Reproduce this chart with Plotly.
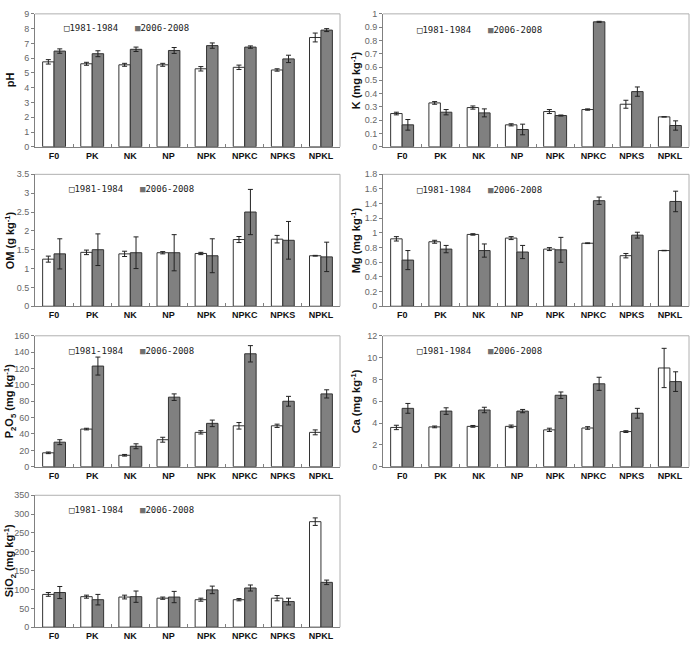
import plotly.graph_objects as go

W, H = 697, 645

categories = ["F0", "PK", "NK", "NP", "NPK", "NPKC", "NPKS", "NPKL"]
series_names = ["1981-1984", "2006-2008"]

ph_old = [5.75, 5.62, 5.55, 5.55, 5.28, 5.38, 5.20, 7.40]
ph_old_err = [0.15, 0.10, 0.10, 0.10, 0.15, 0.15, 0.08, 0.30]
ph_new = [6.48, 6.30, 6.60, 6.52, 6.85, 6.75, 5.95, 7.90]
ph_new_err = [0.15, 0.20, 0.15, 0.20, 0.18, 0.08, 0.25, 0.10]

k_old = [0.25, 0.33, 0.295, 0.165, 0.265, 0.28, 0.32, 0.225]
k_old_err = [0.01, 0.01, 0.012, 0.008, 0.015, 0.005, 0.03, 0.0]
k_new = [0.165, 0.26, 0.255, 0.13, 0.235, 0.94, 0.415, 0.16]
k_new_err = [0.04, 0.02, 0.03, 0.04, 0.004, 0.004, 0.035, 0.035]

om_old = [1.25, 1.43, 1.39, 1.42, 1.40, 1.77, 1.78, 1.34]
om_old_err = [0.08, 0.06, 0.07, 0.03, 0.03, 0.08, 0.10, 0.01]
om_new = [1.39, 1.50, 1.42, 1.42, 1.34, 2.50, 1.75, 1.31]
om_new_err = [0.40, 0.42, 0.42, 0.48, 0.45, 0.60, 0.50, 0.39]

mg_old = [0.92, 0.88, 0.98, 0.93, 0.78, 0.86, 0.69, 0.76]
mg_old_err = [0.03, 0.02, 0.01, 0.02, 0.02, 0.005, 0.03, 0.003]
mg_new = [0.63, 0.78, 0.76, 0.74, 0.77, 1.44, 0.97, 1.43]
mg_new_err = [0.13, 0.05, 0.09, 0.09, 0.17, 0.05, 0.04, 0.14]

p_old = [17, 46, 14, 33, 42, 50, 50, 42]
p_old_err = [1, 1, 1, 3, 2, 4, 2, 3]
p_new = [30, 123, 25, 85, 53, 138, 80, 89]
p_new_err = [3, 11, 3, 4, 4, 10, 6, 5]

ca_old = [3.6, 3.65, 3.7, 3.7, 3.38, 3.55, 3.22, 9.05]
ca_old_err = [0.2, 0.08, 0.08, 0.12, 0.15, 0.12, 0.08, 1.8]
ca_new = [5.35, 5.1, 5.2, 5.1, 6.55, 7.6, 4.9, 7.8]
ca_new_err = [0.45, 0.3, 0.25, 0.15, 0.3, 0.6, 0.45, 0.9]

si_old = [87, 81, 80, 77, 73, 73, 77, 280]
si_old_err = [5, 4, 5, 3, 4, 3, 7, 10]
si_new = [92, 73, 81, 80, 99, 104, 68, 119]
si_new_err = [16, 14, 15, 15, 10, 8, 9, 6]

panels = [
    ("pH", 9, 1, ph_old, ph_old_err, ph_new, ph_new_err),
    ("K (mg kg<sup>-1</sup>)", 1, 0.1, k_old, k_old_err, k_new, k_new_err),
    ("OM (g kg<sup>-1</sup>)", 3.5, 0.5, om_old, om_old_err, om_new, om_new_err),
    ("Mg (mg kg<sup>-1</sup>)", 1.8, 0.2, mg_old, mg_old_err, mg_new, mg_new_err),
    ("P<sub>2</sub>O<sub>5</sub> (mg kg<sup>-1</sup>)", 160, 20, p_old, p_old_err, p_new, p_new_err),
    ("Ca (mg kg<sup>-1</sup>)", 12, 2, ca_old, ca_old_err, ca_new, ca_new_err),
    ("SiO<sub>2</sub> (mg kg<sup>-1</sup>)", 350, 50, si_old, si_old_err, si_new, si_new_err),
]

# layout geometry in pixels
col_x = [(35, 340), (383, 689)]
row_y = [(9, 144), (172, 306), (336, 469), (498, 632)]
title_x = [10, 356]
legend_pos = [(62, 23), (415, 25), (67, 187), (415, 188), (67, 351), (415, 351), (67, 513)]

fig = go.Figure()
layout = dict(
    width=W, height=H, margin=dict(l=0, r=0, t=0, b=0),
    paper_bgcolor="white", plot_bgcolor="white",
    barmode="group", bargap=0.4, bargroupgap=0.0,
    showlegend=False, annotations=[], shapes=[],
)

for i, (title, ymax, dtick, v1, e1, v2, e2) in enumerate(panels):
    r, c = divmod(i, 2)
    n = "" if i == 0 else str(i + 1)
    xa, ya = "x" + n, "y" + n
    for vals, errs, fill, name in [(v1, e1, "white", series_names[0]), (v2, e2, "#808080", series_names[1])]:
        fig.add_trace(go.Bar(
            x=categories, y=vals, name=name, xaxis=xa, yaxis=ya,
            marker=dict(color=fill, line=dict(color="#333333", width=1)),
            error_y=dict(type="data", array=errs, visible=True, color="#222222", thickness=1, width=2.5),
        ))
    x0, x1 = col_x[c]
    y0, y1 = row_y[r]
    layout["xaxis" + n] = dict(
        domain=[x0 / W, x1 / W], anchor=ya, type="category",
        showline=True, linecolor="#808080", linewidth=1,
        ticks="inside", ticklen=3, tickcolor="#808080", tickson="boundaries",
        tickfont=dict(family="Liberation Sans, Arial", size=9, color="#111111", weight="bold"),
        showgrid=False, zeroline=False, fixedrange=True,
    )
    layout["yaxis" + n] = dict(
        domain=[1 - y1 / H, 1 - y0 / H], anchor=xa, range=[0, ymax], dtick=dtick,
        showline=True, linecolor="#808080", linewidth=1,
        ticks="outside", ticklen=3, tickcolor="#808080",
        tickfont=dict(family="Liberation Sans, Arial", size=9, color="#666666"),
        showgrid=False, zeroline=False, fixedrange=True,
    )
    # light frame on top and right
    layout["shapes"].append(dict(type="line", xref="paper", yref="paper",
                                 x0=x0 / W, x1=x1 / W, y0=1 - y0 / H, y1=1 - y0 / H,
                                 line=dict(color="#b0b0b0", width=1)))
    layout["shapes"].append(dict(type="line", xref="paper", yref="paper",
                                 x0=x1 / W, x1=x1 / W, y0=1 - y0 / H, y1=1 - y1 / H,
                                 line=dict(color="#b0b0b0", width=1)))
    # axis title
    layout["annotations"].append(dict(
        text="<b>" + title + "</b>", xref="paper", yref="paper",
        x=title_x[c] / W, y=1 - (y0 + y1) / 2 / H, textangle=-90,
        showarrow=False, xanchor="center", yanchor="middle",
        font=dict(family="Liberation Sans, Arial", size=11, color="#111111"),
    ))
    # legend text
    lx, ly = legend_pos[i]
    layout["annotations"].append(dict(
        text="□" + series_names[0], xref="paper", yref="paper",
        x=lx / W, y=1 - ly / H, showarrow=False, xanchor="left", yanchor="middle",
        font=dict(family="DejaVu Sans Mono", size=9, color="#222222"),
    ))
    layout["annotations"].append(dict(
        text='<span style="color:#707070">■</span>' + series_names[1], xref="paper", yref="paper",
        x=(lx + 71) / W, y=1 - ly / H, showarrow=False, xanchor="left", yanchor="middle",
        font=dict(family="DejaVu Sans Mono", size=9, color="#222222"),
    ))

fig.update_layout(**layout)
fig.write_html("out.html")
